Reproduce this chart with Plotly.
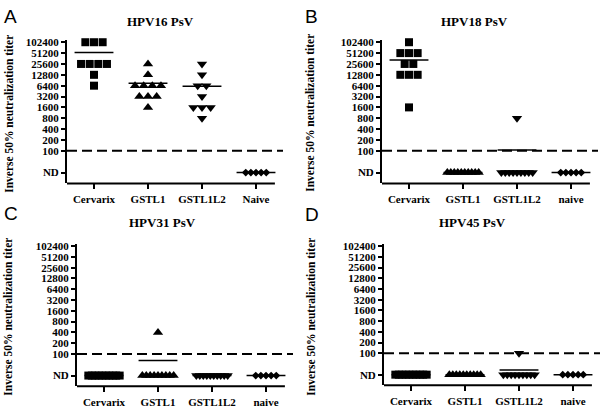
import math
import plotly.graph_objects as go

W, H = 604, 408

# ---------------- data ----------------
titles = ["HPV16 PsV", "HPV18 PsV", "HPV31 PsV", "HPV45 PsV"]
letters = ["A", "B", "C", "D"]
categories = [
    ["Cervarix", "GSTL1", "GSTL1L2", "Naive"],
    ["Cervarix", "GSTL1", "GSTL1L2", "naive"],
    ["Cervarix", "GSTL1", "GSTL1L2", "naive"],
    ["Cervarix", "GSTL1", "GSTL1L2", "naive"],
]
tick_labels = ["ND", "100", "200", "400", "800", "1600", "3200", "6400",
               "12800", "25600", "51200", "102400"]
tick_values = [25, 100, 200, 400, 800, 1600, 3200, 6400,
               12800, 25600, 51200, 102400]
ND_POSITION = 25          # where "ND" is drawn on the log axis
CUTOFF = 100              # dashed detection limit

hpv16_cervarix = [102400, 102400, 102400, 25600, 25600, 25600, 25600, 12800, 6400]
hpv16_gstl1 = [25600, 12800, 6400, 6400, 6400, 6400, 3200, 3200, 3200, 1600]
hpv16_gstl1l2 = [25600, 12800, 6400, 6400, 3200, 1600, 1600, 1600, 800]
hpv16_naive = ["ND", "ND", "ND", "ND", "ND"]
hpv16_means = [53000, 7500, 6200, "ND"]

hpv18_cervarix = [102400, 51200, 51200, 51200, 25600, 25600, 12800, 12800, 12800, 1600]
hpv18_gstl1 = ["ND", "ND", "ND", "ND", "ND", "ND", "ND", "ND", "ND", "ND"]
hpv18_gstl1l2 = [800, "ND", "ND", "ND", "ND", "ND", "ND", "ND", "ND", "ND"]
hpv18_naive = ["ND", "ND", "ND", "ND", "ND"]
hpv18_means = [33000, "ND", 106, "ND"]

hpv31_cervarix = ["ND", "ND", "ND", "ND", "ND", "ND", "ND", "ND", "ND", "ND"]
hpv31_gstl1 = [400, "ND", "ND", "ND", "ND", "ND", "ND", "ND", "ND", "ND"]
hpv31_gstl1l2 = ["ND", "ND", "ND", "ND", "ND", "ND", "ND", "ND", "ND", "ND"]
hpv31_naive = ["ND", "ND", "ND", "ND", "ND"]
hpv31_means = ["ND", 66, "ND", "ND"]

hpv45_cervarix = ["ND", "ND", "ND", "ND", "ND", "ND", "ND", "ND", "ND", "ND"]
hpv45_gstl1 = ["ND", "ND", "ND", "ND", "ND", "ND", "ND", "ND", "ND", "ND"]
hpv45_gstl1l2 = [100, "ND", "ND", "ND", "ND", "ND", "ND", "ND", "ND", "ND"]
hpv45_naive = ["ND", "ND", "ND", "ND", "ND"]
hpv45_means = ["ND", "ND", 34, "ND"]

panels_data = [
    [hpv16_cervarix, hpv16_gstl1, hpv16_gstl1l2, hpv16_naive],
    [hpv18_cervarix, hpv18_gstl1, hpv18_gstl1l2, hpv18_naive],
    [hpv31_cervarix, hpv31_gstl1, hpv31_gstl1l2, hpv31_naive],
    [hpv45_cervarix, hpv45_gstl1, hpv45_gstl1l2, hpv45_naive],
]
panels_means = [hpv16_means, hpv18_means, hpv31_means, hpv45_means]

# ---------------- styling / layout ----------------
symbols = ["square", "triangle-up", "triangle-down", "diamond"]
sizes = [8, 9, 9, 6]
max_step = [0.16, 0.16, 0.16, 0.095]
SERIF = "Liberation Serif, Times New Roman, serif"
SANS = "Liberation Sans, Arial, sans-serif"

# panel boxes in pixels: (left, right, top, bottom)
boxes = [(67, 283, 37, 183), (382, 598, 37, 183),
         (77, 293, 245, 390), (384, 600, 245, 389)]
title_pos = [(160, 18), (474, 18), (162, 223), (472, 223)]
letter_pos = [(2, 13), (303, 13), (2, 214), (303, 215)]
ytitle_x = [9, 310, 8, 311]
ytitle_y = [112, 111, 319, 319]


def pos(v):
    return ND_POSITION if v == "ND" else v


def jitter(values, step):
    """Spread equal values side by side, centred on the category."""
    groups = {}
    for i, v in enumerate(values):
        groups.setdefault(pos(v), []).append(i)
    offs = [0.0] * len(values)
    for _, idx in groups.items():
        k = len(idx)
        if k == 1:
            continue
        s = min(step, 0.58 / (k - 1))
        for j, i in enumerate(idx):
            offs[i] = (j - (k - 1) / 2) * s
    return offs


fig = go.Figure()
layout = dict(
    width=W, height=H, margin=dict(l=0, r=0, t=0, b=0),
    paper_bgcolor="white", plot_bgcolor="white", showlegend=False,
)
shapes = []
annotations = []

ymin = math.log10(12.5)
ymax = math.log10(102400) + 0.18 * math.log10(2)

for p in range(4):
    L, R, T, B = boxes[p]
    xn = "" if p == 0 else str(p + 1)
    xa, ya = "x" + xn, "y" + xn
    layout["xaxis" + xn] = dict(
        domain=[L / W, R / W], range=[-0.5, 3.5], anchor=ya,
        tickvals=[0, 1, 2, 3], ticktext=categories[p],
        ticks="outside", ticklen=5, tickwidth=2, tickcolor="black",
        showline=False, showgrid=False, zeroline=False,
        tickfont=dict(family=SERIF, size=11, color="black", weight="bold"),
        fixedrange=True,
    )
    layout["yaxis" + xn] = dict(
        domain=[1 - B / H, 1 - T / H], type="log", range=[ymin, ymax],
        anchor=xa, tickvals=tick_values, ticktext=tick_labels,
        ticks="outside", ticklen=4, tickwidth=2, tickcolor="black",
        showline=True, linewidth=2, linecolor="black",
        showgrid=False, zeroline=False,
        tickfont=dict(family=SERIF, size=11, color="black", weight="bold"),
        fixedrange=True,
    )
    shapes.append(dict(type="line", xref=xa, yref=ya + " domain",
                       x0=-0.5, x1=3.35, y0=0, y1=0,
                       line=dict(color="black", width=2)))
    shapes.append(dict(type="line", xref=xa, yref=ya,
                       x0=-0.5, x1=3.5, y0=CUTOFF, y1=CUTOFF,
                       line=dict(color="black", width=2, dash="10px,5px")))

    for c in range(4):
        vals = panels_data[p][c]
        offs = jitter(vals, max_step[c])
        fig.add_trace(go.Scatter(
            x=[c + o for o in offs], y=[pos(v) for v in vals],
            xaxis=xa, yaxis=ya, mode="markers", cliponaxis=False,
            marker=dict(symbol=symbols[c], size=sizes[c], color="black",
                        line=dict(width=0)),
            hoverinfo="skip",
        ))
        m = pos(panels_means[p][c])
        fig.add_trace(go.Scatter(
            x=[c - 0.36, c + 0.36], y=[m, m], xaxis=xa, yaxis=ya,
            mode="lines", line=dict(color="black", width=1.5),
            hoverinfo="skip", cliponaxis=False,
        ))

    tx, ty = title_pos[p]
    annotations.append(dict(text=titles[p], x=tx / W, y=1 - ty / H,
                            xref="paper", yref="paper", showarrow=False,
                            xanchor="center", yanchor="middle",
                            font=dict(family=SERIF, size=13, color="black",
                                      weight="bold")))
    lx, ly = letter_pos[p]
    annotations.append(dict(text=letters[p], x=lx / W, y=1 - ly / H,
                            xref="paper", yref="paper", showarrow=False,
                            xanchor="left", yanchor="middle",
                            font=dict(family=SANS, size=19, color="black")))
    annotations.append(dict(text="Inverse 50% neutralization titer",
                            x=ytitle_x[p] / W, y=1 - ytitle_y[p] / H,
                            xref="paper", yref="paper", showarrow=False,
                            textangle=-90, xanchor="center", yanchor="middle",
                            font=dict(family=SERIF, size=11.5, color="black",
                                      weight="bold")))

layout["shapes"] = shapes
layout["annotations"] = annotations
fig.update_layout(**layout)
fig.write_html(
    "out.html",
    config={"displayModeBar": False},
    post_script="document.body.style.margin='0';document.body.style.overflow='hidden';",
)
